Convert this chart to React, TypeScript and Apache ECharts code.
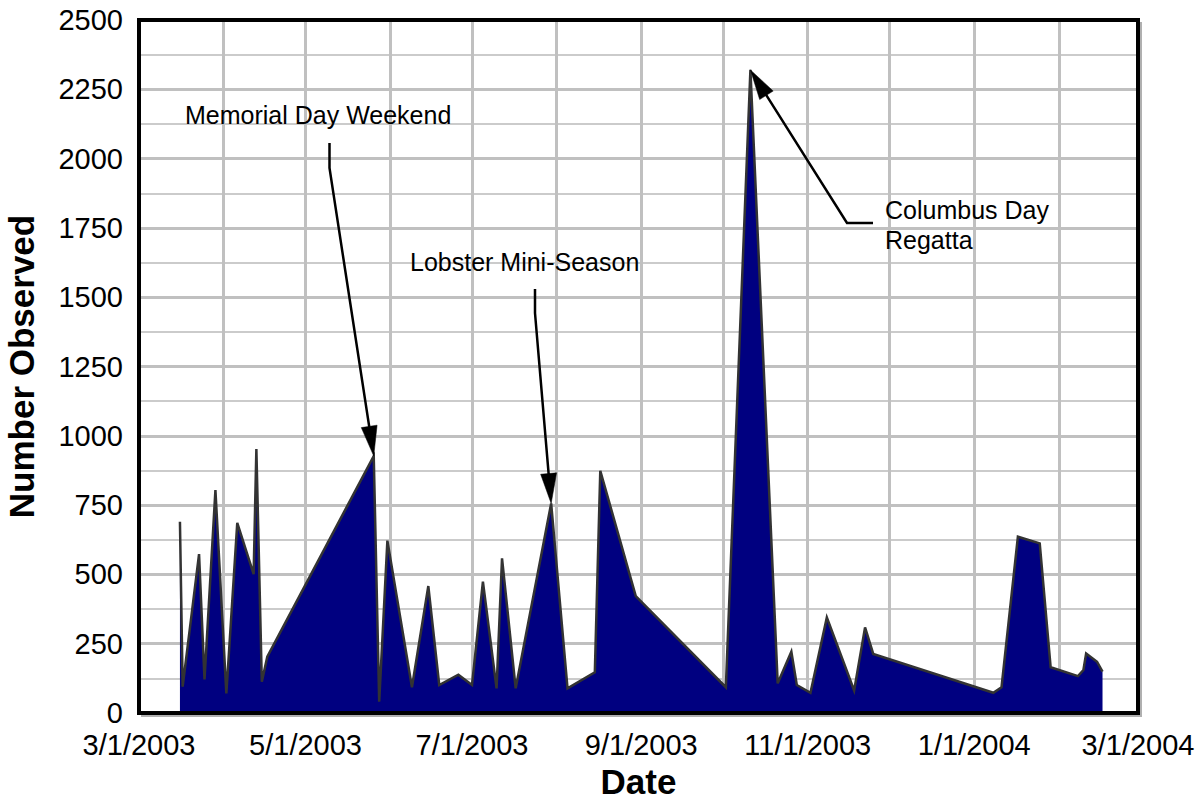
import React, { useEffect, useRef } from "react";
import * as echarts from "echarts";

// ---- data ----
const obsDates = [
  "2003-03-16", "2003-03-17", "2003-03-23", "2003-03-25", "2003-03-29", "2003-04-02",
  "2003-04-06", "2003-04-12", "2003-04-13", "2003-04-15", "2003-04-17", "2003-05-26",
  "2003-05-28", "2003-05-31", "2003-06-09", "2003-06-15", "2003-06-19", "2003-06-26",
  "2003-07-01", "2003-07-05", "2003-07-10", "2003-07-12", "2003-07-17", "2003-07-30",
  "2003-08-05", "2003-08-15", "2003-08-17", "2003-08-30", "2003-10-02", "2003-10-11",
  "2003-10-21", "2003-10-26", "2003-10-28", "2003-11-02", "2003-11-08", "2003-11-18",
  "2003-11-22", "2003-11-25", "2004-01-08", "2004-01-11", "2004-01-17", "2004-01-25",
  "2004-01-29", "2004-02-08", "2004-02-10", "2004-02-11", "2004-02-15", "2004-02-17",
];
const obsCounts = [
  690, 95, 573, 121, 804, 71,
  686, 501, 952, 113, 203, 927,
  41, 622, 93, 458, 101, 138,
  101, 474, 89, 558, 89, 756,
  89, 147, 874, 422, 93, 2320,
  107, 221, 101, 73, 345, 81,
  309, 213, 73, 93, 636, 612,
  165, 133, 155, 215, 185, 149,
];
const xAxisStart = "2003-03-01";
const xAxisEnd = "2004-03-01";
const yMin = 0;
const yMax = 2500;
const yStep = 250;

const annotationTexts = {
  memorial: "Memorial Day Weekend",
  lobster: "Lobster Mini-Season",
  columbus1: "Columbus Day",
  columbus2: "Regatta",
};
const annotationDates = {
  memorial: "2003-05-26",
  lobster: "2003-07-30",
  columbus: "2003-10-11",
};

const FONT = '"Liberation Sans", Arial, Helvetica, sans-serif';
const DAY = 86400000;

function toTime(s: string): number {
  const [y, m, d] = s.split("-").map(Number);
  return new Date(y, m - 1, d).getTime();
}

function arrow(prev: number[], tip: number[]) {
  const L = 30;
  const W = 8;
  const dx = tip[0] - prev[0];
  const dy = tip[1] - prev[1];
  const len = Math.sqrt(dx * dx + dy * dy) || 1;
  const ux = dx / len;
  const uy = dy / len;
  const bx = tip[0] - ux * L;
  const by = tip[1] - uy * L;
  const nx = -uy;
  const ny = ux;
  return {
    base: [bx + ux * 2, by + uy * 2],
    head: {
      type: "polygon",
      z: 110,
      shape: {
        points: [
          [tip[0], tip[1]],
          [bx + nx * W, by + ny * W],
          [bx - nx * W, by - ny * W],
        ],
      },
      style: { fill: "#000", stroke: "#000", lineWidth: 0.5 },
    },
  };
}

export default function App() {
  const ref = useRef<HTMLDivElement>(null);

  useEffect(() => {
    if (!ref.current) return;
    const chart = echarts.init(ref.current, undefined, { renderer: "svg" });

    const gridLeft = 139;
    const gridTop = 20;
    const gridW = 999;
    const gridH = 693;

    const seriesData = obsDates.map((d, i) => [toTime(d), obsCounts[i]]);

    chart.setOption({
      animation: false,
      backgroundColor: "#ffffff",
      grid: {
        left: gridLeft,
        top: gridTop,
        width: gridW,
        height: gridH,
        outerBoundsMode: "none",
        containLabel: false,
        show: true,
        backgroundColor: "#ffffff",
        borderWidth: 0,
      },
      xAxis: {
        type: "time",
        min: toTime(xAxisStart),
        max: toTime(xAxisEnd),
        splitNumber: 12,
        minInterval: 28 * DAY,
        maxInterval: 31 * DAY,
        axisLine: { show: false },
        axisTick: { show: false },
        axisLabel: {
          show: true,
          fontSize: 29,
          fontFamily: FONT,
          color: "#000",
          margin: 17,
          showMinLabel: true,
          showMaxLabel: true,
          hideOverlap: false,
          formatter: (val: number) => {
            const d = new Date(val);
            if (d.getDate() !== 1 || d.getMonth() % 2 !== 0) return "";
            return `${d.getMonth() + 1}/${d.getDate()}/${d.getFullYear()}`;
          },
        },
        splitLine: { show: true, lineStyle: { color: "#c0c0c0", width: 3 } },
        name: "Date",
        nameLocation: "middle",
        nameGap: 42,
        nameTextStyle: { fontSize: 35, fontWeight: "bold", color: "#000", fontFamily: FONT },
      },
      yAxis: {
        type: "value",
        min: yMin,
        max: yMax,
        interval: yStep,
        axisLine: { show: false },
        axisTick: { show: false },
        axisLabel: {
          fontSize: 29,
          fontFamily: FONT,
          color: "#000",
          margin: 16,
          formatter: (v: number) => String(v),
        },
        splitLine: { show: true, lineStyle: { color: "#c0c0c0", width: 3 } },
        minorTick: { show: false, splitNumber: 2 },
        minorSplitLine: { show: true, lineStyle: { color: "#cbcbcb", width: 2 } },
        name: "Number Observed",
        nameLocation: "middle",
        nameGap: 100,
        nameTextStyle: { fontSize: 35, fontWeight: "bold", color: "#000", fontFamily: FONT },
      },
      series: [
        {
          type: "line",
          data: seriesData,
          symbol: "none",
          z: 3,
          lineStyle: { color: "#333333", width: 2.5, join: "miter", miterLimit: 4 },
          areaStyle: { color: "#000080", opacity: 1 },
        },
      ],
    });

    const tipOf = (date: string) => {
      const i = obsDates.indexOf(date);
      return chart.convertToPixel({ seriesIndex: 0 }, [toTime(obsDates[i]), obsCounts[i]]) as number[];
    };

    const memTip = tipOf(annotationDates.memorial);
    const lobTip = tipOf(annotationDates.lobster);
    const colTip = tipOf(annotationDates.columbus);

    const memPts = [[329.5, 143], [329.5, 168]];
    const lobPts = [[535, 289], [535, 313]];
    const colPts = [[873, 223], [847, 223]];

    const memA = arrow(memPts[1], memTip);
    const lobA = arrow(lobPts[1], lobTip);
    const colA = arrow(colPts[1], colTip);

    const lineStyle = { stroke: "#000", lineWidth: 2.5, fill: "none" };
    const textStyle = (text: string) => ({
      text,
      fill: "#000",
      fontSize: 25,
      fontFamily: FONT,
      align: "left",
      verticalAlign: "middle",
    });

    chart.setOption({
      graphic: [
        {
          type: "polyline",
          z: 99,
          silent: true,
          shape: {
            points: [
              [gridLeft + 2, gridTop + gridH + 3],
              [gridLeft + gridW + 3, gridTop + gridH + 3],
              [gridLeft + gridW + 3, gridTop + 2],
            ],
          },
          style: { stroke: "#b0b0b0", lineWidth: 2, fill: "none" },
        },
        {
          type: "rect",
          z: 100,
          silent: true,
          shape: { x: gridLeft, y: gridTop, width: gridW, height: gridH },
          style: { fill: "none", stroke: "#000", lineWidth: 4 },
        },
        { type: "polyline", z: 110, shape: { points: [...memPts, memA.base] }, style: lineStyle },
        memA.head,
        { type: "polyline", z: 110, shape: { points: [...lobPts, lobA.base] }, style: lineStyle },
        lobA.head,
        { type: "polyline", z: 110, shape: { points: [...colPts, colA.base] }, style: lineStyle },
        colA.head,
        { type: "text", z: 110, x: 185, y: 115, style: textStyle(annotationTexts.memorial) },
        { type: "text", z: 110, x: 410, y: 262, style: textStyle(annotationTexts.lobster) },
        { type: "text", z: 110, x: 885, y: 210, style: textStyle(annotationTexts.columbus1) },
        { type: "text", z: 110, x: 885, y: 240, style: textStyle(annotationTexts.columbus2) },
      ],
    });

    return () => {
      chart.dispose();
    };
  }, []);

  return (
    <div
      ref={ref}
      style={{ position: "fixed", left: 0, top: 0, width: 1202, height: 801, background: "#fff" }}
    />
  );
}
